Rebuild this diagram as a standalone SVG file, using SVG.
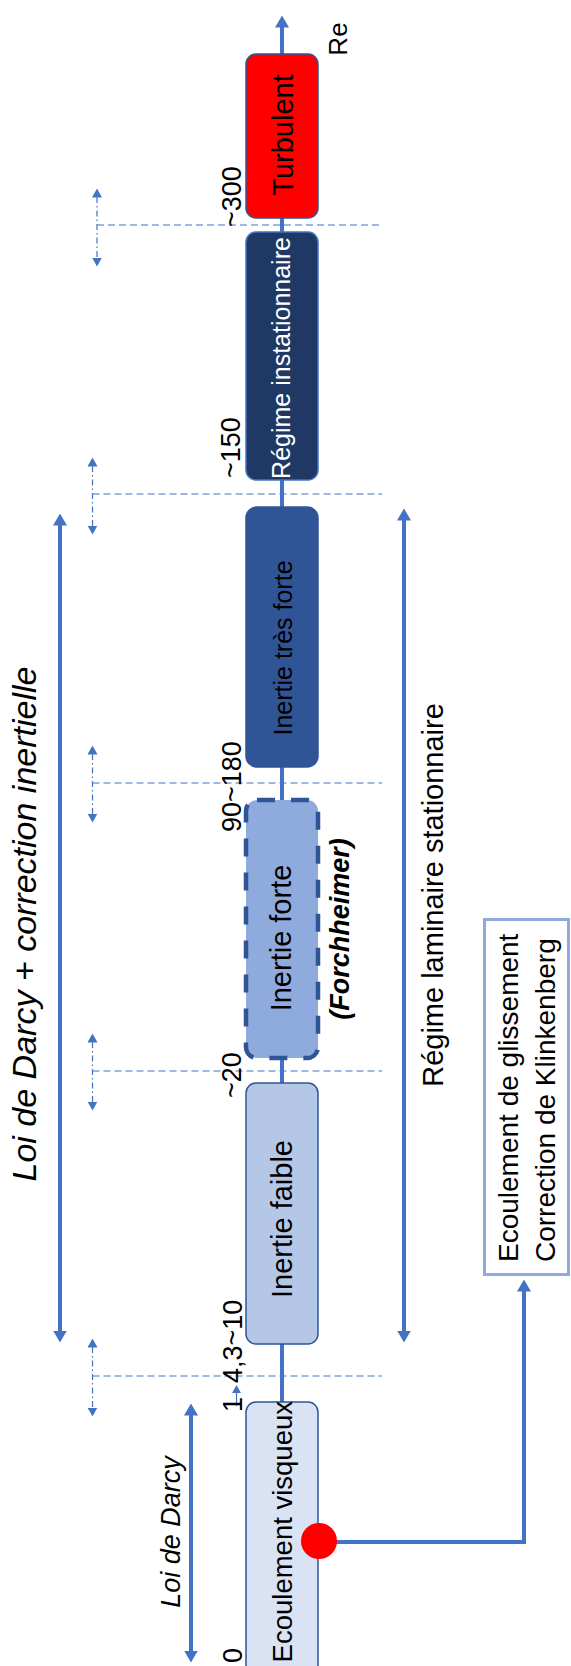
<svg xmlns="http://www.w3.org/2000/svg" width="571" height="1666" viewBox="0 0 571 1666">
<style>
text{font-family:"Liberation Sans",Arial,sans-serif;fill:#000}
.lbl{font-size:27px}
.node text{text-anchor:middle}
.box{stroke-width:1.5}
.thick{stroke:#4472C4;stroke-width:4;fill:none}
.dash{stroke:#4472C4;stroke-width:1.2;stroke-dasharray:7 4;fill:none}
.dashdot{stroke:#4472C4;stroke-width:1.2;stroke-dasharray:6 3 1.5 3;fill:none}
.it{font-style:italic}
</style>
<defs>
<marker id="ah" markerUnits="userSpaceOnUse" viewBox="0 0 12 14" markerWidth="12" markerHeight="14" refX="0.5" refY="7" orient="auto-start-reverse">
<path d="M0,0 L12,7 L0,14 z" fill="#4472C4"/>
</marker>
<marker id="ahs" markerUnits="userSpaceOnUse" viewBox="0 0 9 10" markerWidth="9" markerHeight="10" refX="0.5" refY="5" orient="auto-start-reverse">
<path d="M0,0 L9,5 L0,10 z" fill="#4472C4"/>
</marker>
</defs>

<g id="connectors">
<!-- main Re axis -->
<line class="thick" x1="282" y1="1402" x2="282" y2="27" marker-end="url(#ah)"/>
<!-- threshold dashed lines -->
<line class="dash" x1="97" y1="225" x2="382" y2="225"/>
<line class="dash" x1="92.5" y1="494" x2="382" y2="494"/>
<line class="dash" x1="92.5" y1="783" x2="382" y2="783"/>
<line class="dash" x1="92.5" y1="1071" x2="382" y2="1071"/>
<line class="dash" x1="92.5" y1="1376" x2="382" y2="1376"/>
<!-- dash-dot double arrows -->
<line class="dashdot" x1="97" y1="197" x2="97" y2="258" marker-start="url(#ahs)" marker-end="url(#ahs)"/>
<line class="dashdot" x1="92.5" y1="466" x2="92.5" y2="526" marker-start="url(#ahs)" marker-end="url(#ahs)"/>
<line class="dashdot" x1="92.5" y1="754" x2="92.5" y2="814" marker-start="url(#ahs)" marker-end="url(#ahs)"/>
<line class="dashdot" x1="92.5" y1="1042" x2="92.5" y2="1102" marker-start="url(#ahs)" marker-end="url(#ahs)"/>
<line class="dashdot" x1="92.5" y1="1347" x2="92.5" y2="1408" marker-start="url(#ahs)" marker-end="url(#ahs)"/>
<!-- range arrows -->
<line class="thick" x1="60" y1="525" x2="60" y2="1331" marker-start="url(#ah)" marker-end="url(#ah)"/>
<line class="thick" x1="404" y1="520" x2="404" y2="1331" marker-start="url(#ah)" marker-end="url(#ah)"/>
<line class="thick" x1="191" y1="1415" x2="191" y2="1651" marker-start="url(#ah)" marker-end="url(#ah)"/>
<!-- slip flow link -->
<path class="thick" d="M319,1542 H524 V1291" marker-end="url(#ah)"/>
<!-- small arrow 1 -> 4,3 -->
<line x1="236.5" y1="1406" x2="236.5" y2="1392" stroke="#4472C4" stroke-width="1.2"/>
<polygon points="232,1393 241,1393 236.5,1385" fill="#4472C4"/>
</g>

<g id="node-turbulent" class="node">
<rect class="box" x="246" y="54" width="72" height="164" rx="10" fill="#FF0000" stroke="#2F5597" stroke-width="2"/>
<text transform="translate(293,135) rotate(-90)" font-size="29">Turbulent</text>
</g>
<g id="node-instationnaire" class="node">
<rect class="box" x="246" y="232" width="72" height="248" rx="10" fill="#1F3864" stroke="#4472C4"/>
<text transform="translate(290,358) rotate(-90)" font-size="25" style="fill:#fff">Régime instationnaire</text>
</g>
<g id="node-tres-forte" class="node">
<rect class="box" x="246" y="507" width="72" height="260" rx="11" fill="#2F5597" stroke="#2F5597"/>
<text transform="translate(291.5,648) rotate(-90)" font-size="25">Inertie très forte</text>
</g>
<g id="node-forte" class="node">
<rect x="246" y="800" width="72" height="258" rx="11" fill="#8FAADC" stroke="#2F5597" stroke-width="4.5" stroke-dasharray="18 16"/>
<text transform="translate(291,938) rotate(-90)" font-size="29">Inertie forte</text>
<text class="it" transform="translate(349,929) rotate(-90)" font-size="27" font-weight="bold">(Forchheimer)</text>
</g>
<g id="node-faible" class="node">
<rect class="box" x="246" y="1083" width="72" height="261" rx="10" fill="#B4C7E7" stroke="#2F5597"/>
<text transform="translate(292,1219) rotate(-90)" font-size="29">Inertie faible</text>
</g>
<g id="node-visqueux" class="node">
<rect class="box" x="246" y="1402" width="72" height="290" rx="10" fill="#DAE3F3" stroke="#2F5597"/>
<text transform="translate(292,1401) rotate(-90)" font-size="27.5" style="text-anchor:end">Ecoulement visqueux</text>
<circle cx="319" cy="1541" r="18" fill="#FF0000"/>
</g>
<g id="node-glissement">
<rect x="484.5" y="919.5" width="84" height="355" fill="#fff" stroke="#8FAADC" stroke-width="3"/>
<text transform="translate(518,1262) rotate(-90)" font-size="28">Ecoulement de glissement</text>
<text transform="translate(555,1262) rotate(-90)" font-size="28">Correction de Klinkenberg</text>
</g>

<g id="labels">
<text transform="translate(347,39) rotate(-90)" font-size="26" text-anchor="middle">Re</text>
<text class="lbl" transform="translate(241,227) rotate(-90)">~300</text>
<text class="lbl" transform="translate(240,478) rotate(-90)">~150</text>
<text class="lbl" transform="translate(241,832) rotate(-90)">90~180</text>
<text class="lbl" transform="translate(241,1098) rotate(-90)">~20</text>
<text class="lbl" transform="translate(242,1383) rotate(-90)">4,3~10</text>
<text class="lbl" transform="translate(242,1412) rotate(-90)">1</text>
<text class="lbl" transform="translate(242,1663) rotate(-90)">0</text>
<text class="it" transform="translate(36,924) rotate(-90)" font-size="34" text-anchor="middle">Loi de Darcy + correction inertielle</text>
<text class="it" transform="translate(180,1532) rotate(-90)" font-size="27" text-anchor="middle">Loi de Darcy</text>
<text transform="translate(443,895) rotate(-90)" font-size="29" text-anchor="middle">Régime laminaire stationnaire</text>
</g>
</svg>
